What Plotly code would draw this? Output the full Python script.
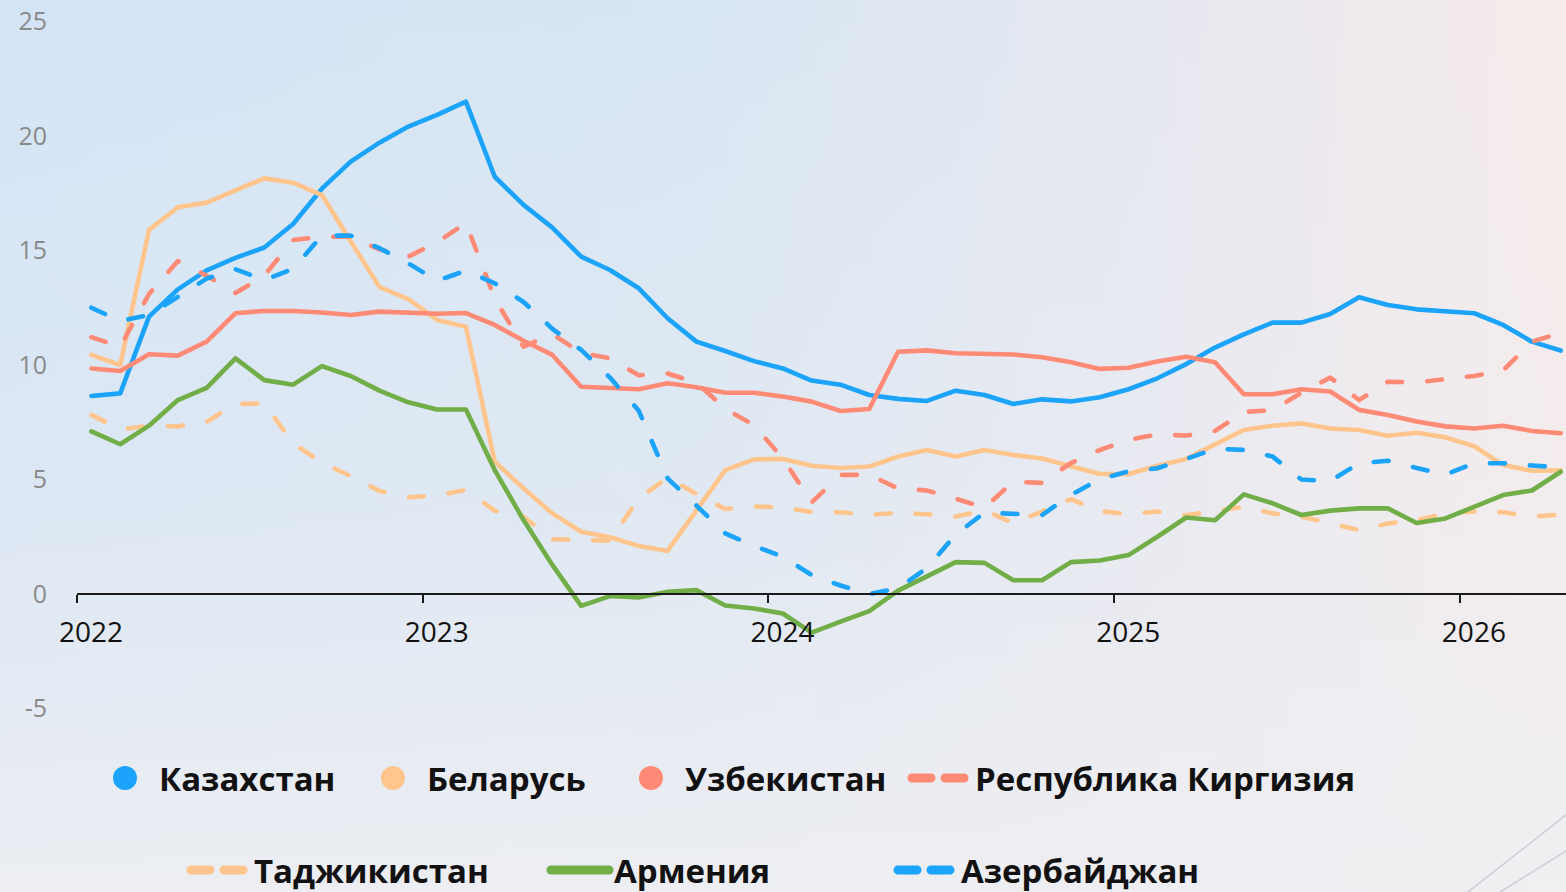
import base64
import plotly.graph_objects as go

# ---------------- data ----------------
months = [
    "2022-01", "2022-02", "2022-03", "2022-04", "2022-05", "2022-06", "2022-07", "2022-08", "2022-09", "2022-10", "2022-11", "2022-12",
    "2023-01", "2023-02", "2023-03", "2023-04", "2023-05", "2023-06", "2023-07", "2023-08", "2023-09", "2023-10", "2023-11", "2023-12",
    "2024-01", "2024-02", "2024-03", "2024-04", "2024-05", "2024-06", "2024-07", "2024-08", "2024-09", "2024-10", "2024-11", "2024-12",
    "2025-01", "2025-02", "2025-03", "2025-04", "2025-05", "2025-06", "2025-07", "2025-08", "2025-09", "2025-10", "2025-11", "2025-12",
    "2026-01", "2026-02", "2026-03", "2026-04",
]

kazakhstan = [8.65, 8.76, 12.11, 13.3, 14.13, 14.68, 15.13, 16.16, 17.7, 18.88, 19.71, 20.41,
              20.92, 21.5, 18.22, 16.99, 16.0, 14.73, 14.15, 13.35, 12.04, 11.02, 10.61, 10.17,
              9.85, 9.32, 9.14, 8.69, 8.52, 8.43, 8.88, 8.69, 8.3, 8.5, 8.41, 8.59,
              8.94, 9.42, 10.04, 10.76, 11.34, 11.85, 11.85, 12.23, 12.96, 12.62, 12.43, 12.36,
              12.26, 11.75, 11.02, 10.63]
belarus = [10.44, 10.0, 15.9, 16.89, 17.09, 17.64, 18.15, 17.96, 17.42, 15.4, 13.4, 12.88,
           11.97, 11.67, 5.78, 4.61, 3.52, 2.72, 2.48, 2.1, 1.88, 3.65, 5.41, 5.88,
           5.9, 5.6, 5.5, 5.57, 6.0, 6.29, 6.0, 6.29, 6.07, 5.92, 5.56, 5.24,
           5.24, 5.6, 5.9, 6.51, 7.16, 7.35, 7.45, 7.23, 7.16, 6.91, 7.04, 6.84,
           6.45, 5.63, 5.38, 5.4]
uzbekistan = [9.85, 9.74, 10.47, 10.41, 11.02, 12.26, 12.36, 12.36, 12.29, 12.18, 12.33, 12.29,
              12.24, 12.27, 11.75, 11.06, 10.44, 9.05, 8.98, 8.94, 9.2, 9.03, 8.79, 8.79,
              8.62, 8.4, 7.99, 8.08, 10.58, 10.64, 10.51, 10.48, 10.46, 10.34, 10.12, 9.83,
              9.88, 10.15, 10.36, 10.12, 8.72, 8.72, 8.94, 8.84, 8.04, 7.82, 7.53, 7.32,
              7.23, 7.35, 7.12, 7.02]
kyrgyzstan = [11.22, 10.8, 13.1, 14.54, 13.9, 13.14, 13.9, 15.46, 15.6, 15.6, 15.05, 14.73,
              15.36, 16.2, 12.9, 10.8, 11.35, 10.53, 10.29, 9.55, 9.63, 9.23, 8.09, 7.37,
              5.92, 4.0, 5.2, 5.2, 4.61, 4.52, 4.16, 3.77, 4.9, 4.85, 5.72, 6.29,
              6.73, 6.97, 6.92, 7.12, 7.95, 8.02, 8.79, 9.45, 8.47, 9.27, 9.24, 9.38,
              9.52, 9.76, 11.02, 11.4]
tajikistan = [7.82, 7.19, 7.34, 7.32, 7.52, 8.3, 8.32, 6.58, 5.73, 5.15, 4.5, 4.22,
              4.31, 4.54, 3.64, 3.37, 2.39, 2.37, 2.33, 4.18, 5.08, 4.37, 3.71, 3.82,
              3.78, 3.59, 3.57, 3.45, 3.55, 3.48, 3.38, 3.65, 3.09, 3.6, 4.14, 3.62,
              3.49, 3.6, 3.44, 3.62, 3.81, 3.52, 3.38, 3.09, 2.79, 3.08, 3.22, 3.52,
              3.6, 3.57, 3.38, 3.47]
armenia = [7.1, 6.54, 7.35, 8.47, 9.0, 10.29, 9.34, 9.14, 9.95, 9.52, 8.88, 8.37,
           8.06, 8.06, 5.41, 3.23, 1.27, -0.52, -0.09, -0.15, 0.1, 0.17, -0.5, -0.63,
           -0.85, -1.69, -1.21, -0.75, 0.15, 0.76, 1.39, 1.36, 0.6, 0.6, 1.39, 1.46,
           1.7, 2.5, 3.34, 3.22, 4.35, 3.96, 3.45, 3.64, 3.74, 3.74, 3.1, 3.3,
           3.81, 4.32, 4.52, 5.34]
azerbaijan = [12.5, 11.92, 12.18, 12.98, 13.77, 14.18, 13.71, 14.2, 15.65, 15.65, 15.1, 14.44,
              13.68, 14.12, 13.57, 12.75, 11.58, 10.66, 9.45, 8.0, 5.05, 3.86, 2.65, 2.1,
              1.63, 0.83, 0.37, 0.0, 0.25, 1.13, 2.6, 3.55, 3.52, 3.45, 4.33, 5.01,
              5.36, 5.49, 5.9, 6.34, 6.29, 6.0, 5.0, 4.93, 5.71, 5.82, 5.5, 5.22,
              5.71, 5.71, 5.61, 5.53]

series_names = ["Казахстан", "Беларусь", "Узбекистан", "Республика Киргизия",
                "Таджикистан", "Армения", "Азербайджан"]
series_values = [kazakhstan, belarus, uzbekistan, kyrgyzstan, tajikistan, armenia, azerbaijan]

year_labels = ["2022", "2023", "2024", "2025", "2026"]
y_tick_vals = [-5, 0, 5, 10, 15, 20, 25]
y_tick_text = ["-5", "0", "5", "10", "15", "20", "25"]

# ---------------- styling ----------------
BLUE, PEACH, SALMON, GREEN = "#1ca3fb", "#ffc58d", "#ff8a75", "#72ae47"
colors = [BLUE, PEACH, SALMON, SALMON, PEACH, GREEN, BLUE]
dashes = ["solid", "solid", "solid", "15px,25px", "15px,25px", "solid", "15px,25px"]
legend_kind = ["marker", "marker", "marker", "dash", "dash", "line", "dash"]
# legend symbol centre (px from left) and row centre (px from top)
legend_pos = [(125, 778), (393, 778), (651, 778), (941, 778),
              (220, 870), (580, 870), (927, 870)]

W, H = 1566, 892
ML, MR, MT, MB = 77, 0, 0, 172
plot_w, plot_h = W - ML - MR, H - MT - MB
px_per_unit = 22.9
zero_px = 594
y_max = (zero_px - MT) / px_per_unit
y_min = y_max - plot_h / px_per_unit
px_per_cat = 28.81
x_min = -0.5
x_max = x_min + plot_w / px_per_cat

x = list(range(len(months)))
year_tick_pos = [months.index(y + "-01") - 0.5 for y in year_labels]

fig = go.Figure()
for name, vals, col, dsh in zip(series_names, series_values, colors, dashes):
    fig.add_trace(go.Scatter(
        x=x, y=vals, mode="lines", name=name, showlegend=False,
        line=dict(color=col, width=4.6, dash=dsh), hoverinfo="skip"))

ITEMW = 58
for k, (name, col, kind) in enumerate(zip(series_names, colors, legend_kind)):
    key = "legend" if k == 0 else f"legend{k + 1}"
    if kind == "marker":
        tr = go.Scatter(x=[None], y=[None], mode="markers", name=name, legend=key,
                        marker=dict(color=col, size=16, symbol="circle"))
    else:
        tr = go.Scatter(x=[None], y=[None], mode="lines", name=name, legend=key,
                        line=dict(color=col, width=5,
                                  dash="solid" if kind == "line" else "19px,14px"))
    fig.add_trace(tr)
    cx, cy = legend_pos[k]
    start_px = cx - (ITEMW + 10) / 2
    fig.update_layout(**{key: dict(
        orientation="h", xanchor="left", yanchor="middle",
        x=(start_px - ML) / plot_w, y=(plot_h + MT - cy) / plot_h,
        bgcolor="rgba(0,0,0,0)", borderwidth=0, itemwidth=ITEMW,
        itemclick=False, itemdoubleclick=False,
        font=dict(family="Open Sans", size=33, color="#111111", weight="bold"))})

bg_svg = f"""<svg xmlns='http://www.w3.org/2000/svg' width='{W}' height='{H}' viewBox='0 0 {W} {H}' preserveAspectRatio='none'>
<defs>
<linearGradient id='h' x1='0' y1='0' x2='1' y2='0'>
<stop offset='0' stop-color='#d3e4f6'/>
<stop offset='0.45' stop-color='#d8e6f3'/>
<stop offset='0.75' stop-color='#e7e8f0'/>
<stop offset='1' stop-color='#f6ebea'/>
</linearGradient>
<linearGradient id='v' x1='0' y1='0' x2='0' y2='1'>
<stop offset='0' stop-color='#f0f0f3' stop-opacity='0'/>
<stop offset='0.55' stop-color='#eeeef2' stop-opacity='0.35'/>
<stop offset='1' stop-color='#efeff2' stop-opacity='0.9'/>
</linearGradient>
</defs>
<rect width='{W}' height='{H}' fill='url(#h)'/>
<rect width='{W}' height='{H}' fill='url(#v)'/>
<line x1='1468' y1='{H}' x2='{W}' y2='815' stroke='#d0d0d6' stroke-width='1.6'/>
<line x1='1500' y1='{H}' x2='{W}' y2='851' stroke='#d0d0d6' stroke-width='1.6'/>
</svg>"""
bg_uri = "data:image/svg+xml;base64," + base64.b64encode(bg_svg.encode("utf-8")).decode("ascii")

fig.update_layout(
    width=W, height=H,
    margin=dict(l=ML, r=MR, t=MT, b=MB, pad=0, autoexpand=False),
    paper_bgcolor="#ebebf0", plot_bgcolor="rgba(0,0,0,0)",
    images=[dict(source=bg_uri, xref="paper", yref="paper",
                 x=-ML / plot_w, y=1 + MT / plot_h,
                 sizex=W / plot_w, sizey=H / plot_h,
                 xanchor="left", yanchor="top", sizing="stretch", layer="below")],
    xaxis=dict(type="linear", range=[x_min, x_max], showgrid=False, zeroline=False,
               showline=True, linecolor="#1a1a1a", linewidth=1.5,
               anchor="free", position=(0 - y_min) / (y_max - y_min),
               tickmode="array", tickvals=year_tick_pos, ticktext=year_labels,
               ticks="outside", ticklen=8, tickwidth=1.5, tickcolor="#1a1a1a",
               ticklabelshift=14, ticklabelstandoff=6, automargin=False,
               tickfont=dict(family="Open Sans", size=28, color="#111111")),
    yaxis=dict(range=[y_min, y_max], showgrid=False, zeroline=False, showline=False,
               tickmode="array", tickvals=y_tick_vals, ticktext=y_tick_text,
               ticks="", ticklabelstandoff=29, automargin=False,
               tickfont=dict(family="Open Sans", size=25, color="#8a8a8a")),
    hovermode=False,
)

# page styling: no body margin; rounded line ends and larger legend symbols
post_js = """
document.body.style.margin = '0';
document.body.style.padding = '0';
document.querySelectorAll('g.scatterlayer path.js-line').forEach(function(p){
  p.style.strokeLinecap = 'round'; p.style.strokeLinejoin = 'round';
});
document.querySelectorAll('g.legendlines path').forEach(function(p){
  p.style.strokeWidth = '9px'; p.style.strokeLinecap = 'round';
});
document.querySelectorAll('g.legendpoints path.scatterpts').forEach(function(p){
  var t = p.getAttribute('transform') || '';
  if (t.indexOf('scale') < 0) { p.setAttribute('transform', t + ' scale(1.5)'); }
});
"""

fig.write_html("out.html", config={"displayModeBar": False}, post_script=post_js)
